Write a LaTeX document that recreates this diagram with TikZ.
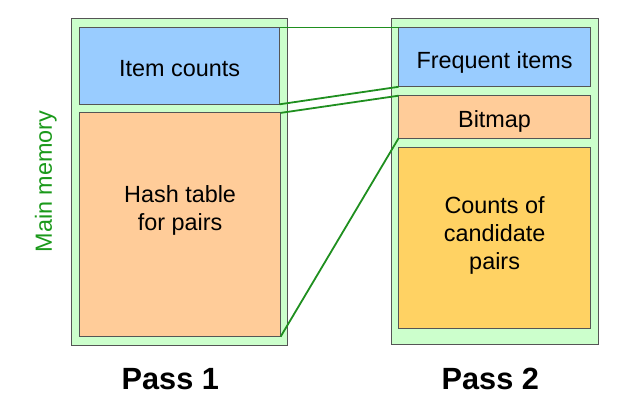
\documentclass[tikz,border=0pt]{standalone}
\usepackage{fontspec}
\setmainfont{Liberation Sans}
\definecolor{memgreen}{HTML}{CCFFCC}
\definecolor{boxgray}{HTML}{555555}
\definecolor{itemblue}{HTML}{99CCFF}
\definecolor{peach}{HTML}{FFCC99}
\definecolor{gold}{HTML}{FFD263}
\definecolor{linkgreen}{HTML}{1F8F1F}
\definecolor{labelgreen}{HTML}{1A991A}
\begin{document}
\begin{tikzpicture}[x=1pt,y=-1pt,
  box/.style={draw=boxgray, line width=1pt, rectangle, inner sep=0pt, outer sep=0pt, anchor=north west},
  txt/.style={font=\fontsize{23.4}{28}\selectfont, text=black, inner sep=0pt, align=center},
  passlbl/.style={font=\fontsize{30.7}{36}\selectfont\bfseries, text=black, inner sep=0pt, anchor=base},
  link/.style={draw=linkgreen, line width=1.8pt}]
\useasboundingbox (0,0) rectangle (638,415);
% outer memory boxes
\node[box, fill=memgreen, minimum width=215.3pt, minimum height=326.4pt] (mem1) at (71.8,18.6) {};
\node[box, fill=memgreen, minimum width=206.9pt, minimum height=325.9pt] (mem2) at (391.1,18.6) {};
% pass 1 boxes
\node[box, fill=itemblue, minimum width=200pt, minimum height=76.8pt] (ic) at (79.6,27.5) {};
\node[box, fill=peach, minimum width=201pt, minimum height=223.8pt] (ht) at (79.6,112.9) {};
% pass 2 boxes
\node[box, fill=itemblue, minimum width=192.1pt, minimum height=59.3pt] (fi) at (398.6,27.5) {};
\node[box, fill=peach, minimum width=192.1pt, minimum height=42.5pt] (bm) at (398.6,95.7) {};
\node[box, fill=gold, minimum width=192.1pt, minimum height=180.9pt] (cc) at (398.6,147.1) {};
% texts
\node[txt, anchor=base] (ictxt) at (179.6,76) {Item counts};
\node[txt] (httxt) at (180.1,210) {Hash table\\for pairs};
\node[txt, anchor=base] (fitxt) at (494.6,68) {Frequent items};
\node[txt, anchor=base] (bmtxt) at (494.6,127.5) {Bitmap};
\node[txt] (cctxt) at (494.6,235.9) {Counts of\\candidate\\pairs};
\node[txt, text=labelgreen, rotate=90] (mm) at (45.8,181.5) {Main memory};
\node[passlbl] (p1) at (170.3,389.3) {Pass 1};
\node[passlbl] (p2) at (490.3,389.3) {Pass 2};
% connectors
\draw[link] (ic.north east) -- (fi.north west);
\draw[link] (ic.south east) -- (fi.south west);
\draw[link] (ht.north east) -- (bm.north west);
\draw[link] (ht.south east) -- (bm.south west);
\end{tikzpicture}
\end{document}
